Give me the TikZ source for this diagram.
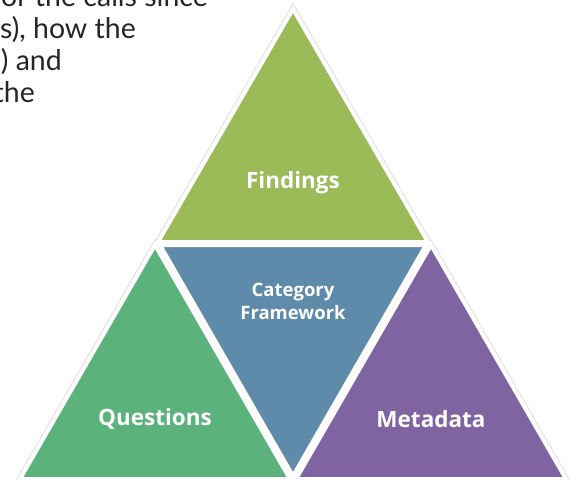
\documentclass[tikz,border=0pt]{standalone}
\usepackage{fontspec}
\setmainfont{Lato}
\newfontfamily\labelfont{Open Sans}
\definecolor{findcol}{HTML}{9BBB59}
\definecolor{catcol}{HTML}{5E8BAA}
\definecolor{qcol}{HTML}{5BB27B}
\definecolor{metacol}{HTML}{8064A2}
\definecolor{bodytext}{HTML}{262626}
\begin{document}
\begin{tikzpicture}[x=1pt,y=-1pt,
  halo/.style={draw=black!10,line width=6.5pt,line join=miter},
  tri/.style={draw=white,line width=4pt,line join=miter},
  lab/.style={text=white,font=\labelfont\bfseries\fontsize{22.5}{26}\selectfont,inner sep=0pt},
  smalllab/.style={text=white,font=\labelfont\bfseries\fontsize{18.5}{23}\selectfont,align=center,inner sep=0pt},
  body/.style={text=bodytext,font=\fontsize{28.5}{32}\selectfont,anchor=base east,inner sep=0pt}]
\useasboundingbox (0,0) rectangle (577,479);
\begin{scope}
\clip (0,0) rectangle (577,479);
% corner points of the four triangles
\coordinate (fA) at (293,9);   \coordinate (fL) at (158,242); \coordinate (fR) at (428,242);
\coordinate (cL) at (160,245); \coordinate (cR) at (426,245); \coordinate (cB) at (293,476);
\coordinate (qA) at (155,245); \coordinate (qL) at (20,479);  \coordinate (qR) at (290,479);
\coordinate (mA) at (431,245); \coordinate (mL) at (296,479); \coordinate (mR) at (566,479);
% faint outer outline
\draw[halo] (fA) -- (fL) -- (fR) -- cycle;
\draw[halo] (qA) -- (qL) -- (qR) -- cycle;
\draw[halo] (mA) -- (mL) -- (mR) -- cycle;
% filled triangles with white borders
\filldraw[tri,fill=findcol] (fA) -- (fL) -- (fR) -- cycle;
\filldraw[tri,fill=qcol] (qA) -- (qL) -- (qR) -- cycle;
\filldraw[tri,fill=metacol] (mA) -- (mL) -- (mR) -- cycle;
\filldraw[tri,fill=catcol] (cL) -- (cR) -- (cB) -- cycle;
% labels
\node[lab] (findings) at (293,183) {Findings};
\node[smalllab] (category) at (293,301) {Category\\Framework};
\node[lab] (questions) at (155,419) {Questions};
\node[lab] (metadata) at (431,419) {Metadata};
% running text at the upper left
\node[body] (l1) at (208,6) {or the calls since};
\node[body] (l2) at (136,38) {s), how the};
\node[body] (l3) at (62,70) {) and};
\node[body] (l4) at (35,102) {the};
\end{scope}
\end{tikzpicture}
\end{document}
